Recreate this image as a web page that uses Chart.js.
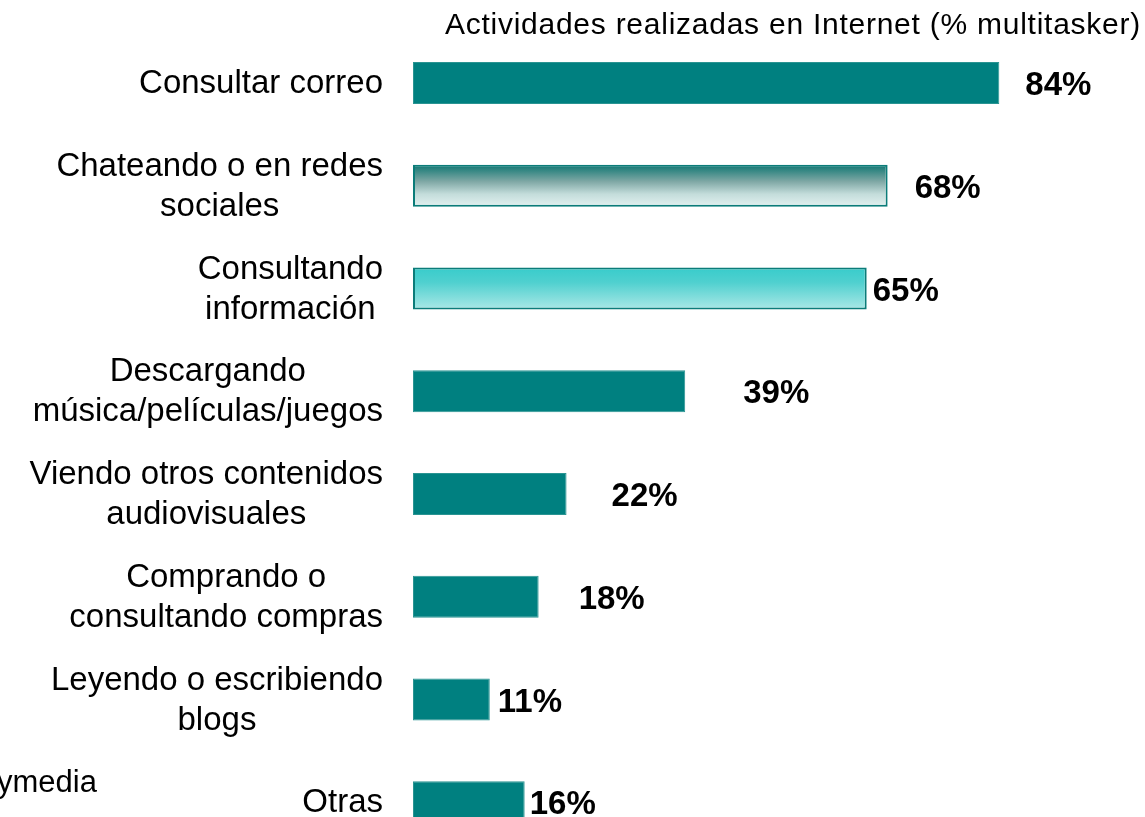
<!DOCTYPE html>
<html>
<head>
<meta charset="utf-8">
<script src="https://cdn.jsdelivr.net/npm/chart.js@4.4.1/dist/chart.umd.min.js"></script>
<style>
  html, body { margin: 0; padding: 0; background: #fff; overflow: hidden; }
  #wrap { position: relative; width: 1145px; height: 870px; }
</style>
</head>
<body>
<div id="wrap"><canvas id="myChart"></canvas></div>
<script>
// datos
const titulo = "Actividades realizadas en Internet (% multitasker)";
const fuente = "ymedia";
const categorias = [
  ["Consultar correo"],
  ["Chateando o en redes", "sociales"],
  ["Consultando", "información"],
  ["Descargando", "música/películas/juegos"],
  ["Viendo otros contenidos", "audiovisuales"],
  ["Comprando o", "consultando compras"],
  ["Leyendo o escribiendo", "blogs"],
  ["Otras"]
];
const valores = [84, 68, 65, 39, 22, 18, 11, 16];

const TEAL = "#008080";
const FONT = "'Liberation Sans', Arial, Helvetica, sans-serif";

// separacion de cada etiqueta de valor respecto al final de la barra
const separacion = [26, 27, 6, 58, 45, 40, 8, 5];

function barGradient(ctx, stops) {
  const chart = ctx.chart;
  const y = chart.scales.y;
  if (!chart.chartArea || !y) return stops[0][1];
  const c = y.getPixelForValue(ctx.dataIndex);
  const h = 21;
  const g = chart.ctx.createLinearGradient(0, c - h, 0, c + h);
  stops.forEach(s => g.addColorStop(s[0], s[1]));
  return g;
}

const fondo = (ctx) => {
  if (ctx.dataIndex === 1) {
    return barGradient(ctx, [[0, "#0f7672"], [0.4, "#7fa8a5"], [0.7, "#c4dddb"], [1, "#e2f1f0"]]);
  }
  if (ctx.dataIndex === 2) {
    return barGradient(ctx, [[0, "#38cccb"], [0.35, "#4fd0cf"], [1, "#aae8e6"]]);
  }
  return TEAL;
};

const textos = {
  id: "textos",
  afterDatasetsDraw(chart) {
    const ctx = chart.ctx;
    const y = chart.scales.y;
    const x = chart.scales.x;
    ctx.save();
    ctx.fillStyle = "#000";

    // titulo
    ctx.font = "30px " + FONT;
    ctx.textAlign = "right";
    ctx.textBaseline = "alphabetic";
    ctx.letterSpacing = "0.75px";
    ctx.fillText(titulo, 1141, 34);
    ctx.letterSpacing = "0px";

    // etiquetas de categoria
    ctx.textBaseline = "middle";
    ctx.font = "33px " + FONT;
    ctx.textAlign = "center";
    const lh = 40;
    categorias.forEach((lineas, i) => {
      const cy = y.getPixelForValue(i);
      const w = Math.max(...lineas.map(l => ctx.measureText(l).width));
      const cx = 383 - w / 2;
      const y0 = cy - (lineas.length - 1) * lh / 2;
      lineas.forEach((l, k) => ctx.fillText(l, cx, y0 + k * lh + 1));
    });

    // valores
    ctx.font = "bold 33px " + FONT;
    ctx.textAlign = "left";
    valores.forEach((v, i) => {
      ctx.fillText(v + "%", x.getPixelForValue(v) + separacion[i], y.getPixelForValue(i) + 3);
    });

    // fuente (recortada)
    ctx.font = "31px " + FONT;
    ctx.textBaseline = "alphabetic";
    ctx.fillText(fuente, -3, 792);
    ctx.restore();
  }
};

new Chart(document.getElementById("myChart"), {
  type: "bar",
  data: {
    labels: categorias,
    datasets: [{
      data: valores,
      backgroundColor: fondo,
      borderColor: ["#2a9492", "#0b7c79", "#0b7c79", "#2a9492", "#2a9492", "#2a9492", "#2a9492", "#2a9492"],
      borderWidth: [1, 2, 2, 1, 1, 1, 1, 1],
      borderSkipped: false,
      categoryPercentage: 1,
      barPercentage: 0.41
    }]
  },
  options: {
    indexAxis: "y",
    responsive: true,
    maintainAspectRatio: false,
    animation: false,
    layout: { padding: { left: 413, right: 34, top: 31.6, bottom: 16.4 } },
    plugins: {
      legend: { display: false },
      title: { display: false },
      tooltip: { enabled: false }
    },
    scales: {
      x: { display: false, min: 0, max: 100 },
      y: { display: false }
    }
  },
  plugins: [textos]
});
</script>
</body>
</html>
